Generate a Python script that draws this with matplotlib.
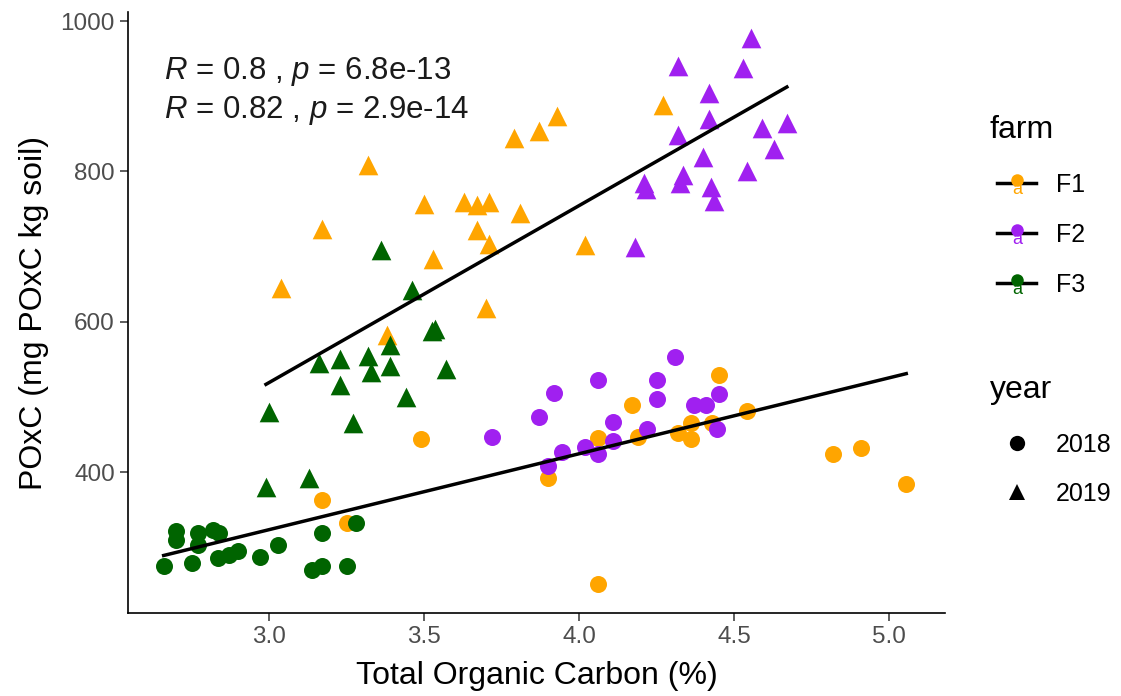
import numpy as np
import matplotlib
matplotlib.use("Agg")
import matplotlib.pyplot as plt
from matplotlib.lines import Line2D

plt.rcParams['font.family'] = ['Liberation Sans', 'DejaVu Sans']
plt.rcParams['mathtext.fontset'] = 'custom'
plt.rcParams['mathtext.rm'] = 'Liberation Sans'
plt.rcParams['mathtext.it'] = 'Liberation Sans:italic'

# --- data ------------------------------------------------------------------
farms = ["F1", "F2", "F3"]
farm_colors = {"F1": "#FFA500", "F2": "#A020F0", "F3": "#006400"}
years = ["2018", "2019"]
year_markers = {"2018": "o", "2019": "^"}

# 2018 (circles)
f1_2018_x = [3.17, 3.25, 3.49, 4.45, 4.17, 4.06, 4.19, 4.32, 4.36, 4.36, 4.43, 4.54,
             3.90, 4.06, 4.82, 4.91, 5.055]
f1_2018_y = [363, 332, 444, 530, 489, 445, 447, 452, 465, 444, 465, 481,
             392, 252, 425, 432, 385]
f2_2018_x = [3.72, 3.87, 3.92, 4.06, 4.25, 4.31, 4.25, 4.11, 4.37, 4.41, 4.45, 4.22,
             4.445, 3.945, 4.02, 4.06, 4.11, 3.90]
f2_2018_y = [447, 474, 506, 523, 523, 553, 498, 467, 489, 489, 504, 458,
             457, 427, 434, 425, 442, 409]
f3_2018_x = [2.66, 2.70, 2.70, 2.75, 2.77, 2.77, 2.82, 2.84, 2.835, 2.87, 2.90, 2.97,
             3.03, 3.14, 3.17, 3.17, 3.25, 3.28]
f3_2018_y = [276, 322, 310, 280, 319, 303, 323, 320, 286, 290, 295, 288,
             303, 270, 275, 320, 276, 332]

# 2019 (triangles)
f1_2019_x = [3.79, 3.32, 3.50, 3.63, 3.67, 3.71, 3.81, 3.17, 3.67, 3.71, 3.53, 3.04,
             3.70, 3.93, 3.87, 4.27, 4.02, 3.38]
f1_2019_y = [845, 808, 757, 760, 756, 760, 745, 723, 722, 704, 683, 645,
             619, 874, 854, 889, 702, 582]
f2_2019_x = [4.555, 4.32, 4.53, 4.42, 4.42, 4.32, 4.59, 4.67, 4.63, 4.40, 4.21, 4.215,
             4.335, 4.325, 4.425, 4.435, 4.54, 4.18]
f2_2019_y = [978, 940, 937, 904, 870, 849, 858, 865, 830, 819, 785, 777,
             795, 784, 779, 761, 801, 699]
f3_2019_x = [3.36, 3.46, 3.535, 3.525, 3.39, 3.32, 3.23, 3.16, 3.39, 3.33, 3.57, 3.23,
             3.44, 3.00, 3.27, 2.99, 3.13]
f3_2019_y = [696, 642, 591, 588, 569, 555, 551, 546, 542, 533, 537, 516,
             500, 480, 465, 380, 392]

points = {
    ("F1", "2018"): (f1_2018_x, f1_2018_y),
    ("F2", "2018"): (f2_2018_x, f2_2018_y),
    ("F3", "2018"): (f3_2018_x, f3_2018_y),
    ("F1", "2019"): (f1_2019_x, f1_2019_y),
    ("F2", "2019"): (f2_2019_x, f2_2019_y),
    ("F3", "2019"): (f3_2019_x, f3_2019_y),
}

cor_labels = [r"$R$ = 0.8 , $p$ = 6.8e-13", r"$R$ = 0.82 , $p$ = 2.9e-14"]

# --- figure ----------------------------------------------------------------
W, H = 1121, 696
fig = plt.figure(figsize=(W / 100, H / 100), dpi=100)
ax = fig.add_axes([128 / W, 1 - 613 / H, (945 - 128) / W, (613 - 12) / H])

marker_size = {"2018": 150, "2019": 200}
for (farm, year), (xs, ys) in points.items():
    ax.scatter(xs, ys, s=marker_size[year], marker=year_markers[year],
               color=farm_colors[farm], linewidths=0, zorder=2)

# one lm line per year, across all farms
for year in years:
    xs = np.concatenate([points[(f, year)][0] for f in farms])
    ys = np.concatenate([points[(f, year)][1] for f in farms])
    m, b = np.polyfit(xs, ys, 1)
    xl = np.linspace(xs.min(), xs.max(), 80)
    ax.plot(xl, m * xl + b, color="black", lw=2.5, zorder=3)

all_x = np.concatenate([v[0] for v in points.values()])
ax.text(all_x.min(), 933, cor_labels[0], fontsize=22.5, ha="left", va="center", color="#1a1a1a")
ax.text(all_x.min(), 881, cor_labels[1], fontsize=22.5, ha="left", va="center", color="#1a1a1a")

ax.set_xlim(2.545, 5.18)
ax.set_ylim(213, 1012)
ax.set_xticks([3.0, 3.5, 4.0, 4.5, 5.0])
ax.set_yticks([400, 600, 800, 1000])
ax.spines["top"].set_visible(False)
ax.spines["right"].set_visible(False)
for s in ("left", "bottom"):
    ax.spines[s].set_linewidth(1.2)
ax.tick_params(length=5.5, width=1.1, color="#333333", labelcolor="#4D4D4D",
               labelsize=17.5, pad=4)
ax.set_xlabel("Total Organic Carbon (%)", fontsize=23, labelpad=9)
ax.set_ylabel("POxC (mg POxC kg soil)", fontsize=23, labelpad=8)


# --- legends (drawn by hand, ggplot style) ---------------------------------
def fx(px):
    return px / W


def fy(py):
    return 1 - py / H


fig.text(fx(990), fy(130), "farm", fontsize=23, ha="left", va="center")
for i, farm in enumerate(farms):
    yc = 183 + 50 * i
    c = farm_colors[farm]
    fig.text(fx(1017), fy(yc + 6), "a", fontsize=13, color=c, ha="center", va="center")
    fig.add_artist(Line2D([fx(997), fx(1036)], [fy(yc), fy(yc)], color="black", lw=2.5))
    fig.add_artist(Line2D([fx(1017)], [fy(yc - 3)], marker="o", ms=9, color=c, mew=0))
    fig.text(fx(1056), fy(yc + 2), farm, fontsize=18, ha="left", va="center")

fig.text(fx(990), fy(390), "year", fontsize=23, ha="left", va="center")
for i, year in enumerate(years):
    yc = 443 + 49 * i
    fig.add_artist(Line2D([fx(1017)], [fy(yc)], marker=year_markers[year], ms=11,
                          color="black", mew=0))
    fig.text(fx(1056), fy(yc + 2), year, fontsize=18, ha="left", va="center")

fig.savefig("out.png", dpi=100)
